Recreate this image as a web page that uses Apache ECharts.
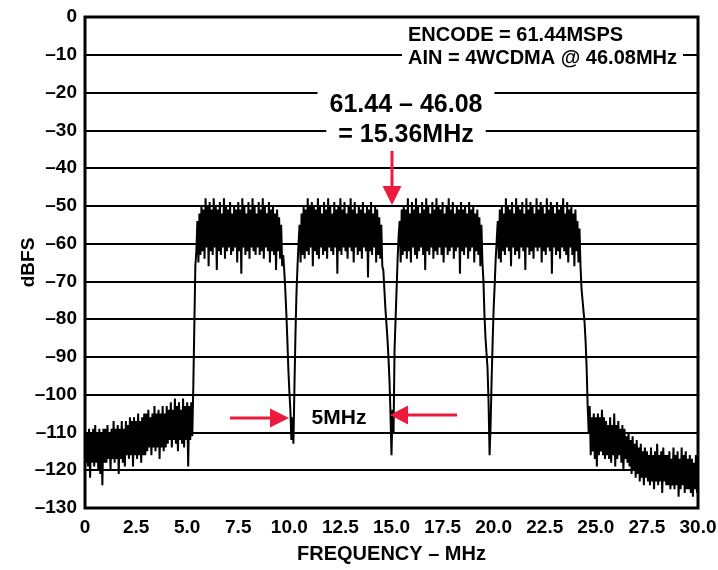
<!DOCTYPE html>
<html>
<head>
<meta charset="utf-8">
<script src="https://cdn.jsdelivr.net/npm/echarts@6/dist/echarts.min.js"></script>
<style>
html,body{margin:0;padding:0;background:#fff;}
#chart{width:718px;height:570px;}
</style>
</head>
<body>
<div id="chart"></div>
<script>
// ---- Data (FFT bins every 0.05 MHz, 0 .. 30 MHz) ----
const freqStartMHz = 0;
const freqBinMHz = 0.05;
const spectrumDBFS = [
  // 0.00 - 0.95 MHz  (noise floor)
  -112,-118,-110,-119,-109,-122,-110,-118,-109,-119,-108,-118,-110,-120,-109,-121,-110,-124,-109,-118,
  // 1.00 - 1.95
  -109,-118,-108,-117,-110,-120,-109,-117,-107,-118,-109,-117,-108,-121,-109,-117,-107,-118,-109,-119,
  // 2.00 - 2.95
  -107,-116,-108,-117,-106,-116,-107,-119,-106,-116,-107,-117,-105,-116,-107,-118,-106,-116,-105,-116,
  // 3.00 - 3.95
  -105,-115,-104,-114,-106,-116,-105,-114,-103,-115,-105,-114,-104,-117,-105,-114,-103,-115,-105,-114,
  // 4.00 - 4.95
  -103,-113,-104,-112,-102,-114,-104,-112,-101,-113,-103,-115,-102,-112,-104,-113,-101,-114,-103,-112,
  // 5.00 - 5.25
  -102,-119,-103,-112,-102,-111,
  // 5.30 - 5.45  (carrier 1 rising edge)
  -98,-82,-66,-62,
  // 5.50 - 9.65  (carrier 1)
  -54,-65,-52,-63,-50,-62,-51,-64,-48,-61,-50,-66,-49,-62,-51,-63,-48,-61,-50,-67,
  -51,-62,-49,-63,-52,-61,-48,-64,-50,-62,-51,-61,-49,-63,-52,-62,-50,-61,-51,-65,
  -49,-62,-51,-68,-48,-61,-50,-63,-52,-62,-49,-64,-51,-61,-48,-62,-50,-63,-52,-61,
  -49,-63,-51,-62,-48,-64,-50,-61,-52,-62,-49,-65,-51,-62,-50,-63,-52,-67,-51,-62,
  -53,-64,-55,-66,
  // 9.70 - 10.45  (notch 1)
  -63,-67,-72,-78,-85,-93,-99,-104,-112,-106,-113,-98,-84,-73,-66,-60,
  // 10.50 - 14.55  (carrier 2)
  -55,-65,-52,-63,-50,-64,-51,-62,-48,-63,-50,-61,-49,-66,-50,-62,-51,-63,-48,-64,
  -50,-61,-52,-63,-49,-62,-51,-64,-48,-61,-50,-62,-52,-63,-49,-61,-51,-68,-50,-62,
  -48,-63,-51,-61,-49,-62,-52,-64,-50,-61,-48,-62,-51,-65,-49,-61,-52,-63,-50,-62,
  -51,-64,-49,-61,-52,-62,-50,-69,-51,-62,-49,-63,-52,-61,-50,-65,-51,-63,-53,-64,
  -55,-66,
  // 14.60 - 15.35  (notch 2)
  -67,-72,-77,-81,-85,-90,-96,-105,-116,-104,-110,-88,-80,-72,-64,-58,
  // 15.40 - 19.45  (carrier 3)
  -54,-65,-51,-63,-50,-62,-51,-64,-48,-62,-52,-65,-49,-61,-51,-63,-48,-64,-50,-62,
  -52,-61,-49,-63,-51,-67,-48,-62,-50,-63,-52,-61,-49,-64,-51,-62,-48,-63,-50,-61,
  -51,-63,-49,-65,-52,-61,-50,-63,-48,-62,-51,-61,-49,-64,-52,-62,-50,-61,-51,-68,
  -49,-62,-51,-63,-50,-61,-52,-64,-49,-62,-51,-61,-50,-65,-52,-62,-51,-63,-53,-66,
  -55,-65,
  // 19.50 - 20.15  (notch 3)
  -70,-79,-85,-89,-93,-102,-116,-108,-96,-86,-77,-71,-64,-59,
  // 20.20 - 24.20  (carrier 4)
  -54,-64,-51,-65,-50,-62,-52,-63,-48,-61,-50,-62,-51,-66,-49,-61,-52,-63,-48,-62,
  -50,-64,-51,-61,-49,-62,-52,-67,-48,-61,-51,-63,-49,-62,-50,-64,-52,-61,-48,-62,
  -51,-61,-49,-65,-50,-62,-52,-63,-48,-61,-51,-62,-49,-68,-50,-61,-52,-63,-49,-62,
  -51,-64,-50,-61,-48,-62,-52,-63,-49,-65,-51,-61,-50,-63,-52,-66,-51,-62,-54,-65,
  -56,
  // 24.25 - 24.60  (carrier 4 falling edge)
  -66,-72,-75,-78,-81,-86,-93,-103,
  // 24.65 - 25.45  (noise floor)
  -110,-103,-116,-106,-115,-105,-117,-106,-119,-105,-116,-106,-115,-104,-116,-106,-117,
  // 25.50 - 26.45
  -107,-116,-108,-117,-106,-118,-108,-116,-105,-119,-108,-117,-107,-116,-109,-118,-108,-120,-109,-117,
  // 26.50 - 27.45
  -111,-118,-110,-119,-112,-121,-111,-120,-113,-122,-112,-121,-114,-123,-113,-122,-115,-124,-114,-122,
  // 27.50 - 28.45
  -115,-123,-116,-124,-114,-123,-116,-125,-115,-123,-113,-124,-116,-123,-115,-126,-114,-123,-116,-124,
  // 28.50 - 29.45
  -116,-124,-115,-125,-117,-124,-114,-125,-116,-124,-115,-127,-117,-125,-114,-124,-116,-126,-115,-125,
  // 29.50 - 30.00
  -117,-125,-116,-126,-117,-127,-118,-125,-116,-126,-120
];

const yTicks = [0,-10,-20,-30,-40,-50,-60,-70,-80,-90,-100,-110,-120,-130];
const xTickLabels = ['0','2.5','5.0','7.5','10.0','12.5','15.0','17.5','20.0','22.5','25.0','27.5','30.0'];

const infoLines = ['ENCODE = 61.44MSPS', 'AIN = 4WCDMA @ 46.08MHz'];
const imageLines = ['61.44 – 46.08', '= 15.36MHz'];
const spacingLabel = '5MHz';

// ---- Chart ----
const FONT = '"Liberation Sans", Arial, Helvetica, sans-serif';
const RED = '#ec1a3d';
const seriesData = spectrumDBFS.map((v, i) => [freqStartMHz + i * freqBinMHz, v]);

const chart = echarts.init(document.getElementById('chart'), null, {renderer: 'canvas'});

chart.setOption({
  animation: false,
  backgroundColor: '#fff',
  grid: {
    left: 85, right: 20, top: 17, bottom: 62,
    containLabel: false, outerBoundsMode: 'none',
    show: true, borderColor: '#000', borderWidth: 3, backgroundColor: 'transparent'
  },
  xAxis: {
    type: 'value', min: 0, max: 30, interval: 2.5,
    name: 'FREQUENCY – MHz', nameLocation: 'middle', nameGap: 36,
    nameTextStyle: {fontFamily: FONT, fontWeight: 'bold', fontSize: 20, color: '#000'},
    axisLine: {show: false}, axisTick: {show: false},
    splitLine: {show: false},
    axisLabel: {
      margin: 10, color: '#000', fontFamily: FONT, fontWeight: 'bold', fontSize: 19,
      formatter: v => xTickLabels[Math.round(v / 2.5)]
    }
  },
  yAxis: {
    type: 'value', min: -130, max: 0, interval: 10,
    name: 'dBFS', nameLocation: 'middle', nameGap: 47, nameMoveOverlap: false,
    nameTextStyle: {fontFamily: FONT, fontWeight: 'bold', fontSize: 19, color: '#000'},
    axisLine: {show: false}, axisTick: {show: false},
    splitLine: {show: true, lineStyle: {color: '#000', width: 2}},
    axisLabel: {
      margin: 8, color: '#000', fontFamily: FONT, fontWeight: 'bold', fontSize: 19,
      formatter: v => (yTicks.includes(v) ? (v === 0 ? '0' : '–' + Math.abs(v)) : '')
    }
  },
  series: [{
    type: 'line',
    data: seriesData,
    showSymbol: false,
    symbol: 'none',
    sampling: null,
    lineStyle: {color: '#000', width: 2},
    z: 3
  }],
  graphic: [
    // info box top right
    {type: 'text', z: 50, left: 402, top: 25,
     style: {text: infoLines[0], font: 'bold 20px ' + FONT, fill: '#000', backgroundColor: '#fff', padding: [0, 6]}},
    {type: 'text', z: 50, left: 402, top: 47,
     style: {text: infoLines[1], font: 'bold 20px ' + FONT, fill: '#000', backgroundColor: '#fff', padding: [1, 6]}},
    // image frequency annotation
    {type: 'text', z: 50, x: 406, y: 105,
     style: {text: imageLines[0], font: 'bold 25px ' + FONT, fill: '#000', align: 'center', verticalAlign: 'middle', backgroundColor: '#fff', padding: [2, 12]}},
    {type: 'text', z: 50, x: 406, y: 135,
     style: {text: imageLines[1], font: 'bold 25px ' + FONT, fill: '#000', align: 'center', verticalAlign: 'middle', backgroundColor: '#fff', padding: [2, 12]}},
    // down arrow
    {type: 'line', z: 60, shape: {x1: 392, y1: 151, x2: 392, y2: 188}, style: {stroke: RED, lineWidth: 3}},
    {type: 'polygon', z: 60, shape: {points: [[382.5, 186], [401.5, 186], [392, 205]]}, style: {fill: RED}},
    // 5MHz label
    {type: 'text', z: 50, x: 339, y: 418,
     style: {text: spacingLabel, font: 'bold 21px ' + FONT, fill: '#000', align: 'center', verticalAlign: 'middle'}},
    // right-pointing arrow
    {type: 'line', z: 60, shape: {x1: 230, y1: 418, x2: 272, y2: 418}, style: {stroke: RED, lineWidth: 3}},
    {type: 'polygon', z: 60, shape: {points: [[270, 408.5], [270, 427.5], [289, 418]]}, style: {fill: RED}},
    // left-pointing arrow
    {type: 'line', z: 60, shape: {x1: 406, y1: 415, x2: 457, y2: 415}, style: {stroke: RED, lineWidth: 3}},
    {type: 'polygon', z: 60, shape: {points: [[408, 405.5], [408, 424.5], [390, 415]]}, style: {fill: RED}}
  ]
});
</script>
</body>
</html>
